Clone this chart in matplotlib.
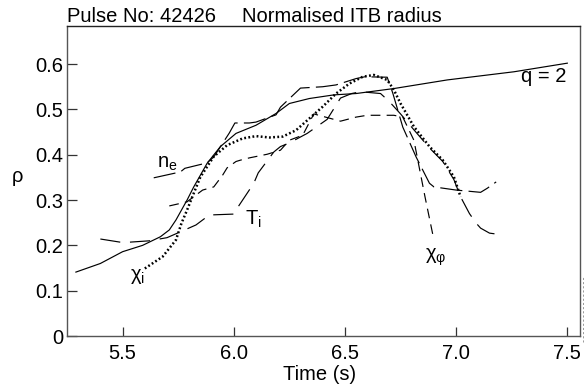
import matplotlib
matplotlib.use("Agg")
import matplotlib.pyplot as plt
from matplotlib.lines import Line2D

plt.rcParams['font.family'] = ['Liberation Sans', 'DejaVu Sans']
plt.rcParams['mathtext.fontset'] = 'custom'
plt.rcParams['mathtext.rm'] = 'Liberation Sans'
plt.rcParams['lines.scale_dashes'] = False

# q = 2 radius (solid)
q2_t = [5.29, 5.40, 5.50, 5.59, 5.67, 5.71, 5.74, 5.79, 5.82, 5.88, 5.94, 6.01, 6.10,
        6.19, 6.25, 6.34, 6.45, 6.55, 6.72, 6.96, 7.26, 7.50]
q2_r = [0.141, 0.160, 0.186, 0.200, 0.219, 0.234, 0.256, 0.300, 0.329, 0.381, 0.418, 0.447, 0.465,
        0.491, 0.513, 0.524, 0.532, 0.535, 0.546, 0.565, 0.583, 0.602]

# n_e (long dash)
ne_t = [5.64, 5.76, 5.78, 5.88, 5.91, 5.98, 6.005, 6.07, 6.10, 6.19, 6.21, 6.30, 6.40, 6.46,
        6.55, 6.59, 6.69, 6.715, 6.76, 6.82, 6.88, 6.90, 7.00, 7.11, 7.14, 7.18]
ne_r = [0.349, 0.362, 0.370, 0.382, 0.395, 0.448, 0.470, 0.470, 0.472, 0.488, 0.505, 0.547, 0.550, 0.554,
        0.568, 0.572, 0.571, 0.536, 0.461, 0.395, 0.337, 0.329, 0.322, 0.317, 0.326, 0.340]

# T_i (long dash)
ti_t = [5.40, 5.49, 5.53, 5.62, 5.70, 5.77, 5.83, 5.89, 6.00, 6.01, 6.09, 6.11, 6.18, 6.21, 6.25,
        6.33, 6.42, 6.48, 6.53, 6.57, 6.66, 6.70, 6.75, 6.81, 6.88, 6.94, 6.99, 7.02, 7.06, 7.09,
        7.11, 7.15, 7.21]
ti_r = [0.214, 0.207, 0.207, 0.210, 0.217, 0.232, 0.245, 0.267, 0.269, 0.278, 0.337, 0.360, 0.406, 0.418, 0.426,
        0.447, 0.478, 0.525, 0.535, 0.539, 0.535, 0.517, 0.490, 0.455, 0.415, 0.385, 0.345, 0.307, 0.270, 0.249,
        0.238, 0.227, 0.223]

# chi_i (dotted)
xi_t = [5.60, 5.68, 5.74, 5.765, 5.79, 5.82, 5.85, 5.91, 5.97, 6.04, 6.10, 6.16, 6.22, 6.28, 6.34,
        6.40, 6.46, 6.52, 6.58, 6.63, 6.69, 6.72, 6.75, 6.81, 6.88, 6.94, 6.99, 7.02]
xi_r = [0.149, 0.175, 0.212, 0.249, 0.278, 0.315, 0.351, 0.396, 0.421, 0.436, 0.441, 0.438, 0.440, 0.454, 0.480,
        0.506, 0.535, 0.557, 0.572, 0.576, 0.565, 0.543, 0.513, 0.462, 0.418, 0.388, 0.351, 0.307]

# chi_phi (short dash)
xp_t = [5.71, 5.79, 5.80, 5.86, 5.91, 5.95, 5.97, 6.01, 6.03, 6.07, 6.15, 6.21, 6.25, 6.31, 6.36,
        6.42, 6.48, 6.55, 6.60, 6.72, 6.76, 6.81, 6.86, 6.90]
xp_r = [0.287, 0.296, 0.300, 0.322, 0.329, 0.355, 0.371, 0.385, 0.388, 0.393, 0.401, 0.410, 0.432, 0.443, 0.490,
        0.482, 0.474, 0.483, 0.487, 0.487, 0.483, 0.432, 0.307, 0.212]

xticks = [5.5, 6.0, 6.5, 7.0, 7.5]
xticklabels = ['5.5', '6.0', '6.5', '7.0', '7.5']
yticks = [0, 0.1, 0.2, 0.3, 0.4, 0.5, 0.6]
yticklabels = ['0', '0.1', '0.2', '0.3', '0.4', '0.5', '0.6']

W, H = 584, 389
fig = plt.figure(figsize=(W / 100, H / 100), dpi=100)
ax = fig.add_axes([67 / W, 1 - 336 / H, (580 - 67) / W, (336 - 26) / H])

FS = 14.5
lw = 0.85
ax.plot(q2_t, q2_r, color='black', lw=lw)
ax.plot(ne_t, ne_r, color='black', lw=lw, dashes=(16, 4.5))
ax.plot(ti_t, ti_r, color='black', lw=lw, dashes=(14.5, 7))
ax.plot(xp_t, xp_r, color='black', lw=lw, dashes=(7, 4.5))
ax.plot(xi_t, xi_r, color='black', lw=1.8, dashes=(1.3, 1.7), dash_capstyle='butt')

ax.set_xlim(5.25, 7.557)
ax.set_ylim(0, 0.684)
ax.set_xticks(xticks)
ax.set_xticklabels(xticklabels)
ax.set_yticks(yticks)
ax.set_yticklabels(yticklabels)
ax.tick_params(axis='both', direction='in', labelsize=FS, color='#333333', width=0.9)
ax.tick_params(axis='y', length=7.5, pad=2.5)
ax.tick_params(axis='x', length=6.5, pad=5.5)
for s in ax.spines.values():
    s.set_color('#555555')
    s.set_linewidth(1.0)
ax.spines['top'].set_color('#222222')

# curve labels
ax.text(5.655, 0.371, r'$\mathregular{n_e}$', fontsize=FS, ha='left', va='baseline')
ax.text(6.05, 0.245, r'$\mathregular{T_i}$', fontsize=FS, ha='left', va='baseline')
ax.text(5.533, 0.124, r'$\mathregular{χ_i}$', fontsize=FS, ha='left', va='baseline')
ax.text(6.86, 0.168, r'$\mathregular{χ_φ}$', fontsize=FS, ha='left', va='baseline')
ax.text(7.497, 0.560, 'q = 2', fontsize=FS, ha='right', va='baseline')

# titles and axis labels
fig.text(67 / W, 1 - 21.7 / H, 'Pulse No: 42426', fontsize=FS, ha='left', va='baseline')
fig.text(242 / W, 1 - 21.7 / H, 'Normalised ITB radius', fontsize=FS, ha='left', va='baseline')
fig.text(17 / W, 1 - 176 / H, 'ρ', fontsize=FS, ha='center', va='center')
fig.text(320 / W, 1 - 380 / H, 'Time (s)', fontsize=FS, ha='center', va='baseline')

# faint dashed mark at right edge
fig.add_artist(Line2D([583 / W, 583 / W], [1 - 342 / H, 1 - 276 / H], transform=fig.transFigure,
                      color='#999999', lw=0.7, dashes=(1.5, 1.5)))

fig.savefig('out.png', dpi=100)
